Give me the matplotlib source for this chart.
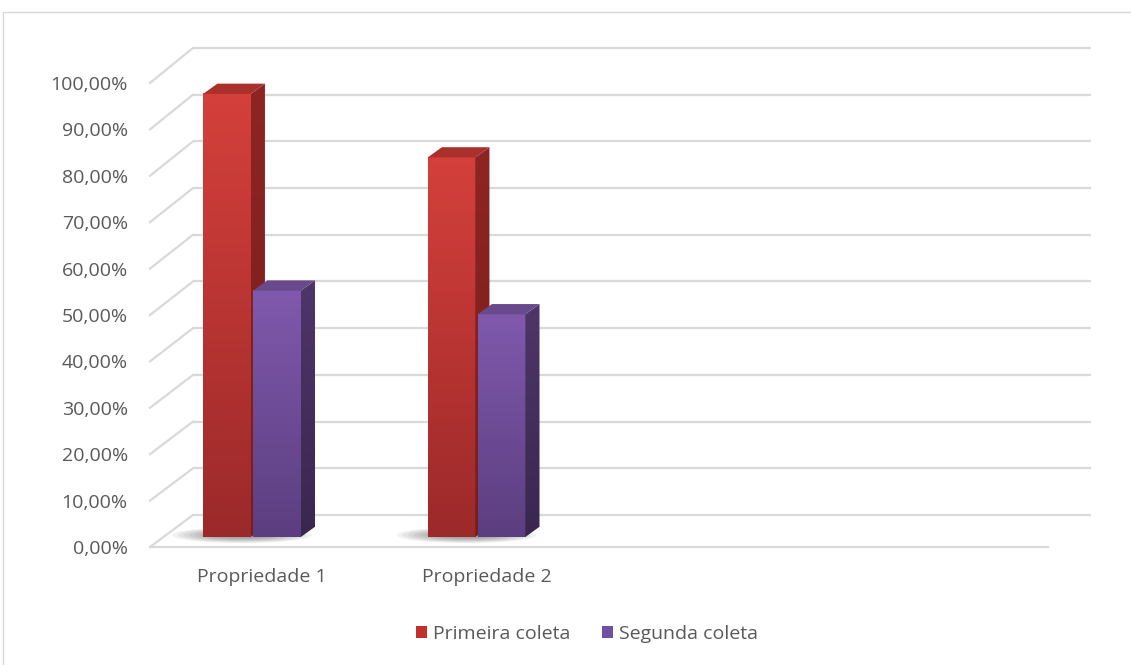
import numpy as np
import matplotlib
matplotlib.use('Agg')
import matplotlib.pyplot as plt
from matplotlib.patches import Polygon, Patch, Rectangle, Ellipse
from matplotlib.colors import LinearSegmentedColormap

plt.rcParams['font.family'] = ['Open Sans', 'DejaVu Sans']

# data
categories = ['Propriedade 1', 'Propriedade 2', '', '']
series_names = ['Primeira coleta', 'Segunda coleta']
primeira = [95.5, 81.8]
segunda = [53.1, 48.0]
yticks = list(range(0, 101, 10))

# style
text_color = '#595959'
grid_color = '#d9d9d9'
front_colors = [('#d4403b', '#9c292a'), ('#8059ad', '#5b3e7f')]
side_colors = [('#8e2522', '#771d1c'), ('#4e3669', '#3a274f')]
top_colors = ['#ab2f2b', '#684a8c']
legend_colors = ['#c0302c', '#7050a0']

# pseudo-3d geometry (in data units of the front plane)
wall_dx, wall_dy = 0.1915, 6.9      # offset of back wall
wall_scale = 1.0065
bar_dx, bar_dy = 0.058, 2.16        # bar plane offset from front
depth_dx, depth_dy = 0.063, 2.2     # depth of each bar
bar_w = 0.212
bar_left = [-0.263, -0.040]         # relative to category position

W, H = 1131, 665
fig = plt.figure(figsize=(W / 100, H / 100), dpi=100)
ax = fig.add_axes([150 / W, (H - 547) / H, 898 / W, 464 / H])
ax.set_xlim(-0.5, 3.5)
ax.set_ylim(0, 100)

# border of chart area
fig.patches.append(Rectangle((3 / W, -0.1), 1.2, (H - 12) / H + 0.1,
                             transform=fig.transFigure, fill=False,
                             edgecolor='#d9d9d9', lw=1.0))

# back wall and side wall gridlines
x0, x1 = ax.get_xlim()
for v in yticks:
    yb = wall_dy + v * wall_scale
    ax.plot([x0 + wall_dx, x1 + wall_dx], [yb, yb], color=grid_color, lw=1.6,
            clip_on=False, zorder=1, solid_capstyle='butt')
    ax.plot([x0, x0 + wall_dx], [v, yb], color=grid_color, lw=1.6,
            clip_on=False, zorder=1)


def gradient(ax, c_top, c_bot, extent, clip=None, z=3):
    cmap = LinearSegmentedColormap.from_list('g', [c_bot, c_top])
    grad = np.linspace(0, 1, 256).reshape(-1, 1)
    im = ax.imshow(grad, cmap=cmap, extent=extent, origin='lower',
                   aspect='auto', zorder=z, interpolation='bilinear')
    if clip is not None:
        im.set_clip_path(clip)
    return im


all_values = [primeira, segunda]
for ci in range(len(primeira)):
    # soft shadow at base
    for k in range(8):
        ax.add_patch(Ellipse((ci - 0.09, bar_dy + 0.4), 0.62 - k * 0.05, 3.4 - k * 0.3,
                             facecolor='#3a3a3a', alpha=0.07, lw=0, zorder=2))
    for si, vals in enumerate(all_values):
        v = vals[ci]
        xl = ci + bar_left[si]
        xr = xl + bar_w
        yb = bar_dy
        yt = bar_dy + v
        # front face
        gradient(ax, front_colors[si][0], front_colors[si][1],
                 (xl, xr, yb, yt), z=3 + si)
        # side face
        side = Polygon([(xr, yb), (xr + depth_dx, yb + depth_dy),
                        (xr + depth_dx, yt + depth_dy), (xr, yt)],
                       closed=True, facecolor='none', edgecolor='none', zorder=3 + si)
        ax.add_patch(side)
        gradient(ax, side_colors[si][0], side_colors[si][1],
                 (xr, xr + depth_dx, yb, yt + depth_dy), clip=side, z=3 + si)
        # top face
        ax.add_patch(Polygon([(xl, yt), (xr, yt), (xr + depth_dx, yt + depth_dy),
                              (xl + depth_dx, yt + depth_dy)], closed=True,
                             facecolor=top_colors[si], edgecolor='none', zorder=3 + si))

ax.set_xlim(-0.5, 3.5)
ax.set_ylim(0, 100)

# axes
for s in ['top', 'right', 'left']:
    ax.spines[s].set_visible(False)
ax.spines['bottom'].set_color(grid_color)
ax.spines['bottom'].set_linewidth(1.6)
ax.set_yticks(yticks)
ax.set_yticklabels([f'{v:.2f}%'.replace('.', ',') for v in yticks])
ax.set_xticks(range(len(categories)))
ax.set_xticklabels(categories)
ax.tick_params(axis='y', length=0, pad=16, labelsize=14, labelcolor=text_color)
ax.tick_params(axis='x', length=0, pad=15, labelsize=14, labelcolor=text_color)
ax.set_facecolor('none')

handles = [Patch(facecolor=c, edgecolor='none') for c in legend_colors]
fig.legend(handles, series_names, loc='center', bbox_to_anchor=(587 / W, 1 - 634 / H),
           ncol=2, frameon=False, fontsize=14, labelcolor=text_color,
           handlelength=0.6, handleheight=0.6, handletextpad=0.3, columnspacing=1.6)

fig.savefig('out.png', dpi=100, facecolor='white')
